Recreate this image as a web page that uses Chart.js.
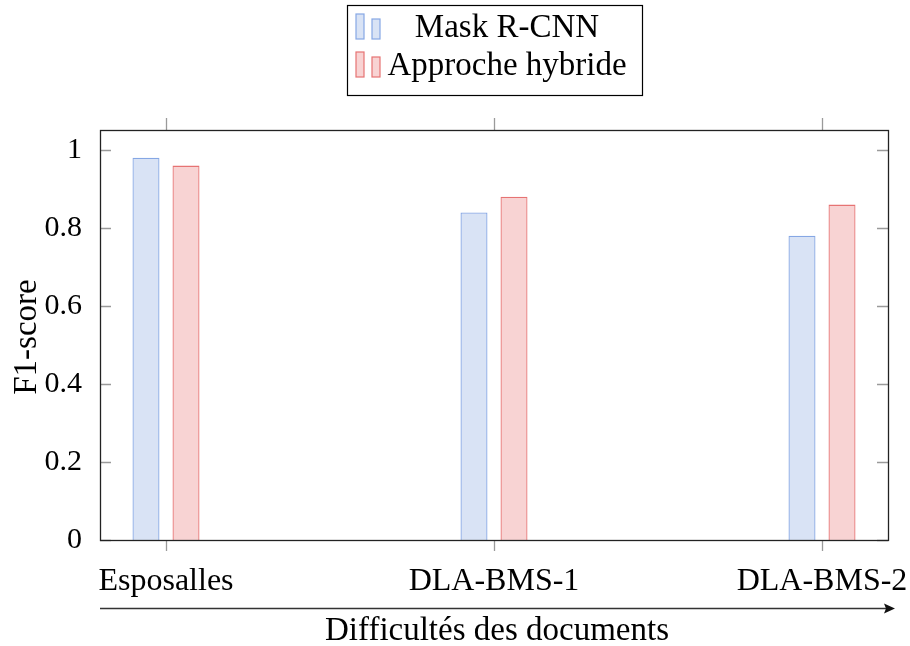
<!DOCTYPE html>
<html>
<head>
<meta charset="utf-8">
<script src="https://cdn.jsdelivr.net/npm/chart.js@4"></script>
<style>
  body { margin: 0; background: #fff; }
  canvas { display: block; }
</style>
</head>
<body>
<canvas id="chart" width="910" height="646"></canvas>
<script>
// Data
const categories = ['Esposalles', 'DLA-BMS-1', 'DLA-BMS-2'];
const maskRcnn = [0.98, 0.84, 0.78];
const hybride = [0.96, 0.88, 0.86];
const yTicks = [0, 0.2, 0.4, 0.6, 0.8, 1];
const seriesNames = ['Mask R-CNN', 'Approche hybride'];

const FONT = '"Liberation Serif", "DejaVu Serif", serif';
const blueFill = '#d9e3f5', blueLine = '#86a7e4';
const redFill = '#f8d3d3', redLine = '#e67373';
const tickGrey = '#9a9a9a';

// frame, ticks, legend, arrow and titles
const decorations = {
  id: 'decorations',
  afterDraw(chart) {
    const ctx = chart.ctx;
    const { left, right, top, bottom } = chart.chartArea;
    const xs = chart.scales.x, ys = chart.scales.y;
    ctx.save();

    // ticks
    ctx.strokeStyle = tickGrey;
    ctx.lineWidth = 1.3;
    ctx.beginPath();
    yTicks.forEach(v => {
      const py = Math.round(ys.getPixelForValue(v)) + 0.5;
      ctx.moveTo(left, py); ctx.lineTo(left + 11, py);
      ctx.moveTo(right, py); ctx.lineTo(right - 11, py);
    });
    categories.forEach((c, i) => {
      const px = Math.round(xs.getPixelForValue(i)) + 0.5;
      ctx.moveTo(px, bottom); ctx.lineTo(px, bottom + 11);
      ctx.moveTo(px, top); ctx.lineTo(px, top - 12);
    });
    ctx.stroke();

    // frame
    ctx.strokeStyle = '#222';
    ctx.lineWidth = 1.3;
    ctx.strokeRect(left + 0.5, top + 0.5, right - left, bottom - top);

    // x axis arrow
    ctx.strokeStyle = '#333';
    ctx.lineWidth = 1.3;
    ctx.beginPath();
    ctx.moveTo(left, 608.5); ctx.lineTo(888, 608.5);
    ctx.stroke();
    ctx.fillStyle = '#111';
    ctx.beginPath();
    ctx.moveTo(895, 608.5);
    ctx.lineTo(884, 603.5);
    ctx.lineTo(886, 608.5);
    ctx.lineTo(884, 613.5);
    ctx.closePath();
    ctx.fill();

    // axis titles
    ctx.fillStyle = '#000';
    ctx.font = '33px ' + FONT;
    ctx.textAlign = 'center';
    ctx.textBaseline = 'middle';
    ctx.fillText('Difficultés des documents', 497, 631);
    ctx.save();
    ctx.translate(27, 337);
    ctx.rotate(-Math.PI / 2);
    ctx.fillText('F1-score', 0, 0);
    ctx.restore();

    // legend
    ctx.strokeStyle = '#000';
    ctx.lineWidth = 1.2;
    ctx.strokeRect(347.5, 5.5, 295, 90);
    const rows = [
      { name: seriesNames[0], fill: blueFill, line: blueLine, y: 26 },
      { name: seriesNames[1], fill: redFill, line: redLine, y: 64 }
    ];
    rows.forEach(r => {
      ctx.fillStyle = r.fill;
      ctx.strokeStyle = r.line;
      ctx.lineWidth = 1.2;
      ctx.fillRect(356, r.y - 12, 8, 25);
      ctx.strokeRect(356, r.y - 12, 8, 25);
      ctx.fillRect(372, r.y - 7, 8, 20);
      ctx.strokeRect(372, r.y - 7, 8, 20);
      ctx.fillStyle = '#000';
      ctx.font = '33px ' + FONT;
      ctx.textAlign = 'center';
      ctx.textBaseline = 'middle';
      ctx.fillText(r.name, 507, r.y + 2);
    });

    ctx.restore();
  }
};

new Chart(document.getElementById('chart'), {
  type: 'bar',
  data: {
    datasets: [
      {
        label: seriesNames[0],
        data: maskRcnn.map((v, i) => ({ x: i, y: v })),
        backgroundColor: blueFill,
        borderColor: blueLine,
        borderWidth: 1.3
      },
      {
        label: seriesNames[1],
        data: hybride.map((v, i) => ({ x: i, y: v })),
        backgroundColor: redFill,
        borderColor: redLine,
        borderWidth: 1.3
      }
    ]
  },
  options: {
    responsive: false,
    animation: false,
    categoryPercentage: 0.244,
    barPercentage: 0.675,
    layout: { padding: { top: 130, right: 22, left: 0, bottom: 0 } },
    plugins: {
      legend: { display: false },
      tooltip: { enabled: false }
    },
    scales: {
      x: {
        type: 'linear',
        offset: false,
        min: -0.2012,
        max: 2.2012,
        grid: { display: false, offset: false },
        border: { display: false },
        afterBuildTicks: s => { s.ticks = categories.map((c, i) => ({ value: i })); },
        afterFit: s => { s.height = 106; s.paddingLeft = 0; s.paddingRight = 0; },
        ticks: {
          color: '#000',
          font: { family: FONT, size: 32 },
          padding: 14,
          maxRotation: 0,
          callback: v => categories[v]
        }
      },
      y: {
        min: 0,
        max: 1.0513,
        grid: { display: false },
        border: { display: false },
        afterBuildTicks: s => { s.ticks = yTicks.map(v => ({ value: v })); },
        afterFit: s => { s.width = 100; s.paddingTop = 0; s.paddingBottom = 0; },
        ticks: {
          color: '#000',
          font: { family: FONT, size: 30 },
          padding: 10,
          callback: v => String(v)
        }
      }
    }
  },
  plugins: [decorations]
});
</script>
</body>
</html>
